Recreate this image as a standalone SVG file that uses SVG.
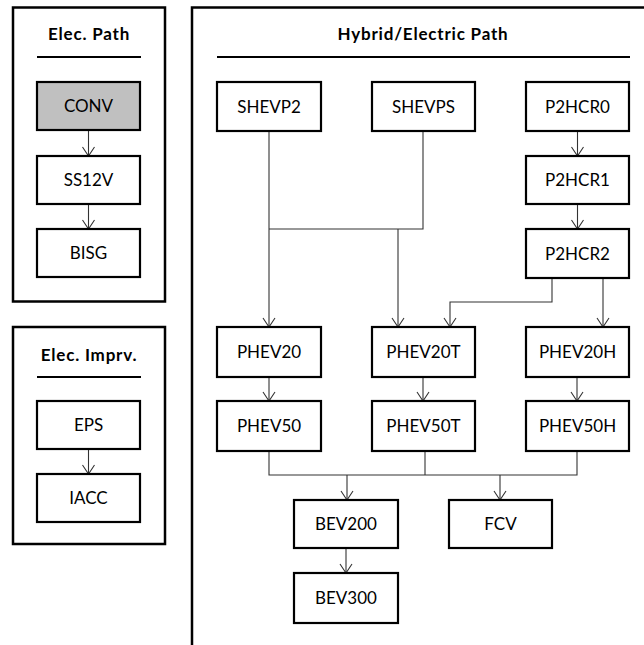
<svg xmlns="http://www.w3.org/2000/svg" width="644" height="645" viewBox="0 0 644 645">
<style>
.panel{fill:none;stroke:#000;stroke-width:2.5}
.rule{stroke:#000;stroke-width:2}
.box{fill:#fff;stroke:#000;stroke-width:2.2}
.gray{fill:#c0c0c0}
.t{font-family:Lato,"Liberation Sans",sans-serif;font-size:17px;fill:#000;text-anchor:middle}
.h{font-family:Lato,"Liberation Sans",sans-serif;font-size:17px;font-weight:bold;fill:#000;text-anchor:middle;letter-spacing:0.8px}
.c{fill:none;stroke:#333;stroke-width:1.1}
.a{marker-end:url(#arr)}
</style>
<defs>
<marker id="arr" viewBox="-1 -7 11 14" markerWidth="11" markerHeight="14" refX="9" refY="0" orient="auto" markerUnits="userSpaceOnUse">
<path d="M0,-6 L9,0 L0,6" fill="none" stroke="#333" stroke-width="1.1"/>
</marker>
</defs>
<g id="panels">
<rect class="panel" x="13" y="7.5" width="152" height="294"/>
<text class="h" x="89" y="40">Elec. Path</text>
<line class="rule" x1="37" y1="57" x2="141" y2="57"/>
<rect class="panel" x="13" y="327" width="152" height="217"/>
<text class="h" x="89" y="361">Elec. Imprv.</text>
<line class="rule" x1="37" y1="377" x2="141" y2="377"/>
<rect class="panel" x="192" y="7.5" width="500" height="700"/>
<text class="h" x="423" y="40">Hybrid/Electric Path</text>
<line class="rule" x1="217" y1="57" x2="630" y2="57"/>
</g>
<g id="connectors">
<line class="c a" x1="88.5" y1="130" x2="88.5" y2="156"/>
<line class="c a" x1="88.5" y1="204" x2="88.5" y2="229"/>
<line class="c a" x1="88.5" y1="449" x2="88.5" y2="474"/>
<line class="c a" x1="577.5" y1="131" x2="577.5" y2="156"/>
<line class="c a" x1="577.5" y1="204" x2="577.5" y2="229"/>
<line class="c a" x1="269" y1="131" x2="269" y2="327"/>
<polyline class="c" points="423,131 423,229 269,229"/>
<line class="c a" x1="398" y1="229" x2="398" y2="327"/>
<polyline class="c a" points="552,278 552,302 450,302 450,327"/>
<line class="c a" x1="603" y1="278" x2="603" y2="327"/>
<line class="c a" x1="269" y1="377" x2="269" y2="401"/>
<line class="c a" x1="423" y1="377" x2="423" y2="401"/>
<line class="c a" x1="577" y1="377" x2="577" y2="401"/>
<polyline class="c" points="269,451 269,475 577,475 577,451"/>
<line class="c" x1="425" y1="451" x2="425" y2="475"/>
<line class="c a" x1="347" y1="475" x2="347" y2="500"/>
<line class="c a" x1="500" y1="475" x2="500" y2="500"/>
<line class="c a" x1="346" y1="548" x2="346" y2="573"/>
</g>
<g id="CONV"><rect class="box gray" x="37" y="82" width="103" height="48"/><text class="t" x="88.5" y="112">CONV</text></g>
<g id="SS12V"><rect class="box" x="37" y="156" width="103" height="48"/><text class="t" x="88.5" y="186">SS12V</text></g>
<g id="BISG"><rect class="box" x="37" y="229" width="103" height="48"/><text class="t" x="88.5" y="259">BISG</text></g>
<g id="EPS"><rect class="box" x="37" y="401" width="103" height="48"/><text class="t" x="88.5" y="431">EPS</text></g>
<g id="IACC"><rect class="box" x="37" y="474" width="103" height="48"/><text class="t" x="88.5" y="504">IACC</text></g>
<g id="SHEVP2"><rect class="box" x="217" y="82" width="104" height="49"/><text class="t" x="269" y="113">SHEVP2</text></g>
<g id="SHEVPS"><rect class="box" x="372" y="82" width="103" height="49"/><text class="t" x="423.5" y="113">SHEVPS</text></g>
<g id="P2HCR0"><rect class="box" x="526" y="82" width="103" height="49"/><text class="t" x="577.5" y="113">P2HCR0</text></g>
<g id="P2HCR1"><rect class="box" x="526" y="156" width="103" height="48"/><text class="t" x="577.5" y="186">P2HCR1</text></g>
<g id="P2HCR2"><rect class="box" x="526" y="229" width="103" height="49"/><text class="t" x="577.5" y="260">P2HCR2</text></g>
<g id="PHEV20"><rect class="box" x="217" y="327" width="104" height="50"/><text class="t" x="269" y="358">PHEV20</text></g>
<g id="PHEV20T"><rect class="box" x="372" y="327" width="103" height="50"/><text class="t" x="423.5" y="358">PHEV20T</text></g>
<g id="PHEV20H"><rect class="box" x="526" y="327" width="103" height="50"/><text class="t" x="577.5" y="358">PHEV20H</text></g>
<g id="PHEV50"><rect class="box" x="217" y="401" width="104" height="50"/><text class="t" x="269" y="432">PHEV50</text></g>
<g id="PHEV50T"><rect class="box" x="372" y="401" width="103" height="50"/><text class="t" x="423.5" y="432">PHEV50T</text></g>
<g id="PHEV50H"><rect class="box" x="526" y="401" width="103" height="50"/><text class="t" x="577.5" y="432">PHEV50H</text></g>
<g id="BEV200"><rect class="box" x="294" y="500" width="104" height="48"/><text class="t" x="346" y="530">BEV200</text></g>
<g id="FCV"><rect class="box" x="449" y="500" width="103" height="48"/><text class="t" x="500.5" y="530">FCV</text></g>
<g id="BEV300"><rect class="box" x="294" y="573" width="104" height="50"/><text class="t" x="346" y="604">BEV300</text></g>
</svg>
